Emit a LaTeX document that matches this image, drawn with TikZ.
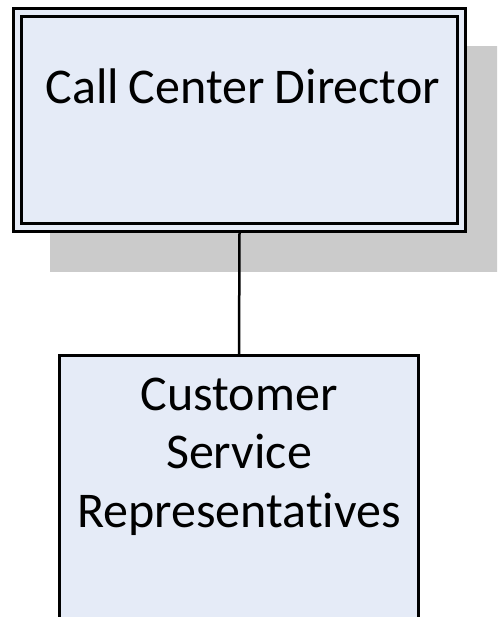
\documentclass[tikz,border=0pt]{standalone}
\usepackage{fontspec}
\setmainfont[Ligatures=NoCommon]{Carlito}
\usetikzlibrary{positioning}
\definecolor{orgfill}{HTML}{E5EBF7}
\definecolor{orggrey}{HTML}{CBCBCB}
\newcommand\orgfont{\fontsize{50}{58.5}\selectfont\spaceskip=0.2em\relax}

\begin{document}
\begin{tikzpicture}[x=1pt,y=-1pt,
    font=\orgfont,
    box/.style={rectangle,draw=black,line width=3pt,fill=orgfill,inner sep=0pt},
    topbox/.style={box,double=orgfill,double distance=5pt,outer sep=5.5pt,
                   minimum width=444pt,minimum height=215pt,
                   text height=35pt,text depth=67pt},
    subbox/.style={box,outer sep=0pt,minimum width=359pt,align=center,
                   text height=171.5pt,text depth=128pt},
    conn/.style={draw=black,line width=2.5pt}]

  % page and clip
  \fill[white] (0,0) rectangle (497,617);
  \useasboundingbox (0,0) rectangle (497,617);
  \clip (0,0) rectangle (497,617);

  % ---------------- shadow of the director box
  \fill[orggrey] (50,46) rectangle (505,272);

  % ---------------- boxes
  \node[topbox] (director) at (239.5,120)
       {\makebox[401pt][r]{Call Center Director}};
  \node[subbox,anchor=north] (csr) at (239,355.5)
       {Customer\\Service\\Representatives};

  \draw[conn] (director.south) -- (csr.north);
\end{tikzpicture}
\end{document}
